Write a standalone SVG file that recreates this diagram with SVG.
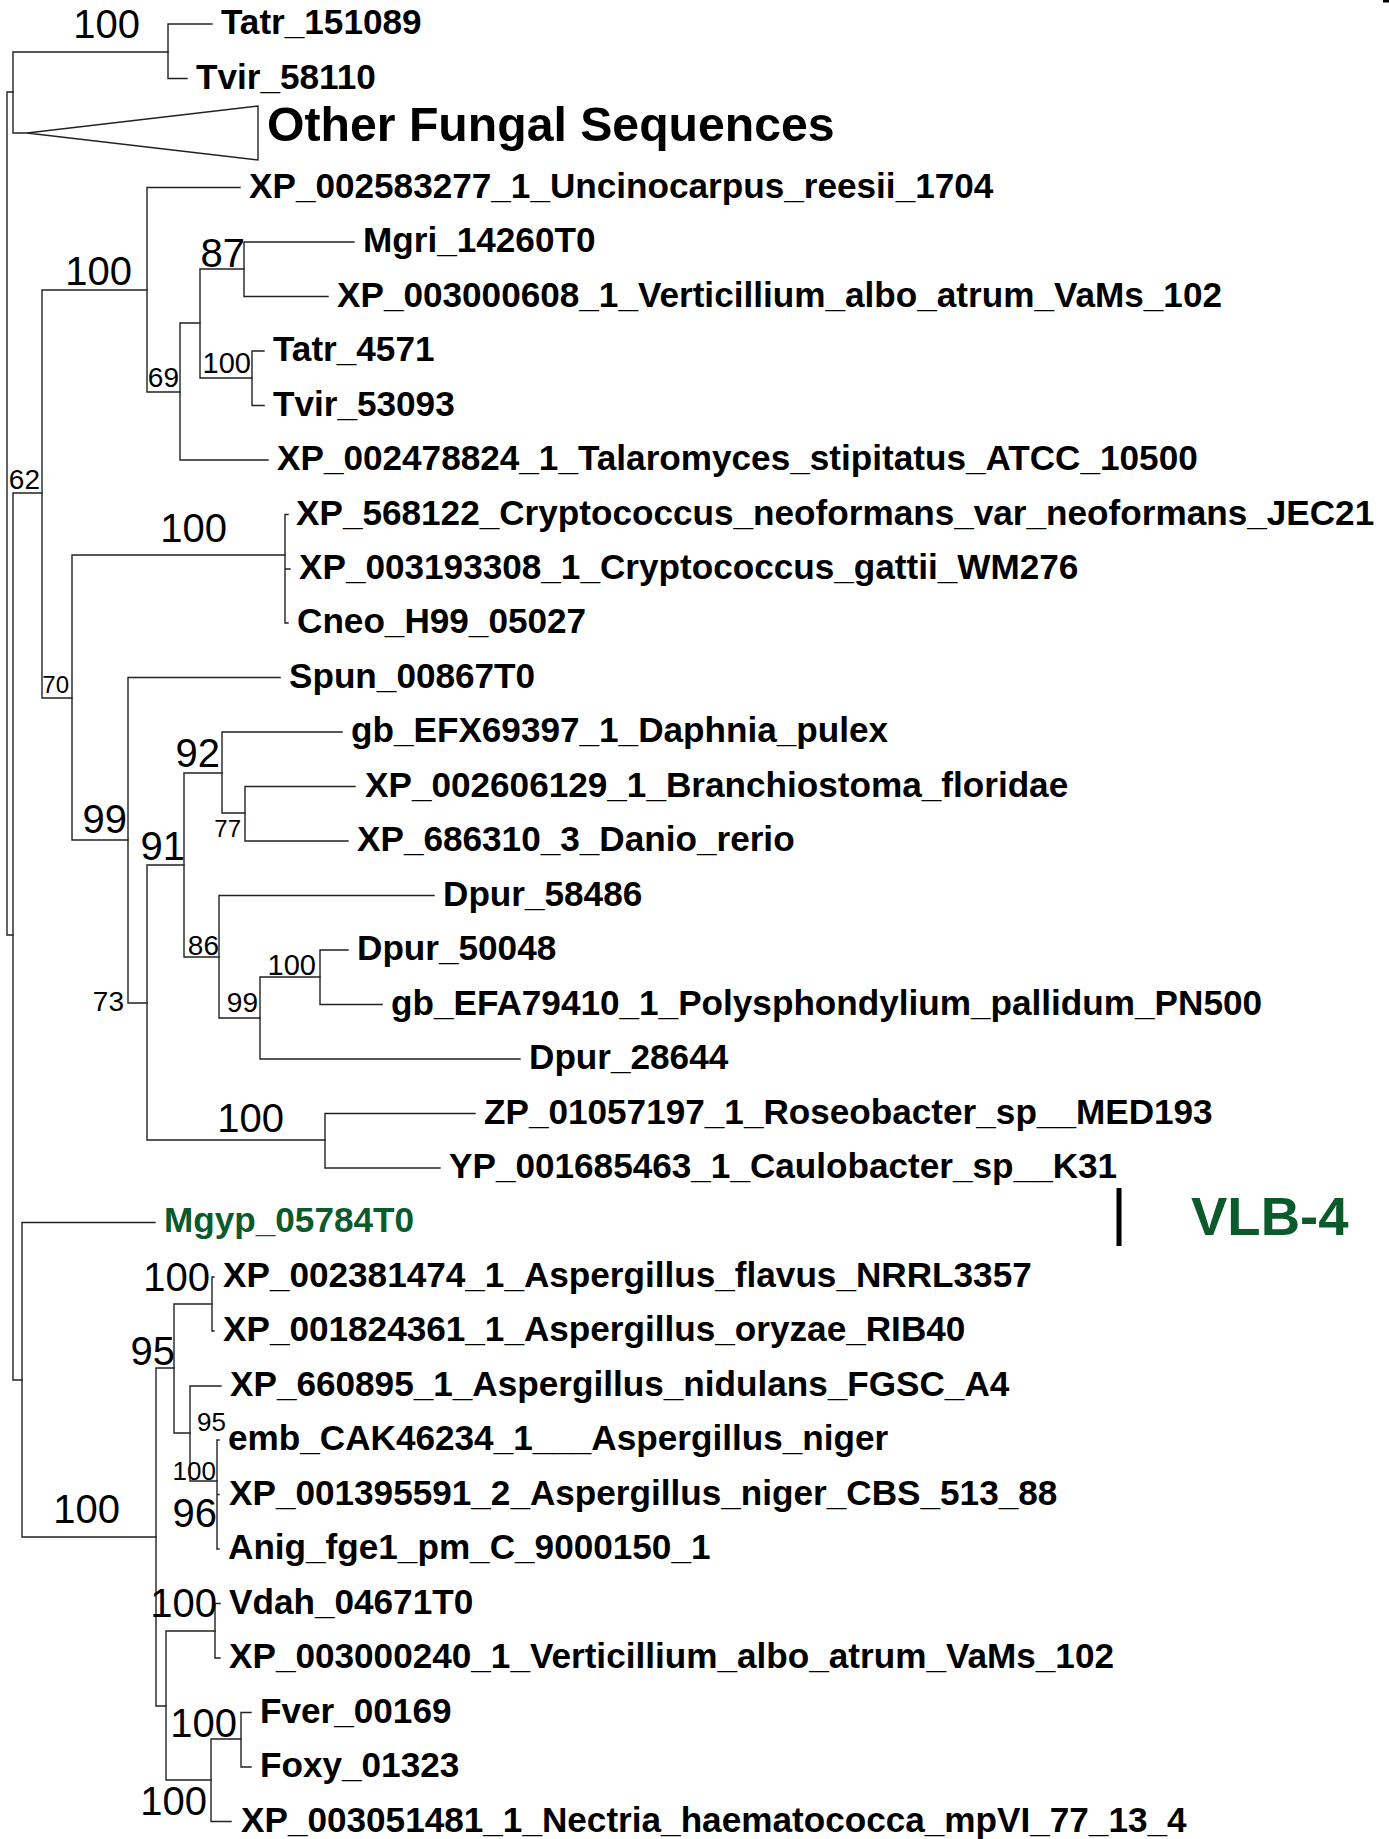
<svg xmlns="http://www.w3.org/2000/svg" width="1389" height="1839" viewBox="0 0 1389 1839">
<style>
.br{fill:none;stroke:#222;stroke-width:1.4;stroke-linecap:square}
.lf{font-family:"Liberation Sans",Arial,sans-serif;font-weight:bold;font-size:35.15px;fill:#000}
.gr{fill:#0B5A2C}
.bl{font-family:"Liberation Sans",Arial,sans-serif;font-size:40px;fill:#000;text-anchor:end}
.bs{font-family:"Liberation Sans",Arial,sans-serif;font-size:28px;fill:#000;text-anchor:end}
</style>
<rect x="0" y="0" width="1389" height="1839" fill="#fff"/>
<rect x="1383" y="0" width="6" height="2.5" fill="#000"/>
<g id="connectors">
<path class="br" d="M7,92V935M7,92H13M7,935H13"/>
<path class="br" d="M13,52V133M13,52H168M13,133H27"/>
<path class="br" d="M168,24V78.5M168,24H212M168,78.5H187"/>
<path class="br" d="M13,493V1380M13,493H42M13,1380H22"/>
<path class="br" d="M42,290V698M42,290H147M42,698H72"/>
<path class="br" d="M147,187.5V392M147,187.5H240M147,392H180"/>
<path class="br" d="M180,323V460M180,323H200M180,460H268"/>
<path class="br" d="M200,269V378M200,269H244M200,378H252"/>
<path class="br" d="M244,242V296.5M244,242H354M244,296.5H328"/>
<path class="br" d="M252,351V405.5M252,351H264M252,405.5H264"/>
<path class="br" d="M72,555V840M72,555H285M72,840H128"/>
<path class="br" d="M285,514.5V623M285,514.5H288M285,569H290M285,623H288"/>
<path class="br" d="M128,677.5V1003M128,677.5H280M128,1003H147"/>
<path class="br" d="M147,865V1140M147,865H184M147,1140H325"/>
<path class="br" d="M184,773V957M184,773H222M184,957H219"/>
<path class="br" d="M222,732V813M222,732H342M222,813H245"/>
<path class="br" d="M245,786.5V841M245,786.5H355M245,841H348"/>
<path class="br" d="M219,895.5V1018M219,895.5H434M219,1018H260"/>
<path class="br" d="M260,977V1059M260,977H320M260,1059H520"/>
<path class="br" d="M320,950V1004.5M320,950H348M320,1004.5H382"/>
<path class="br" d="M325,1113.5V1168M325,1113.5H475M325,1168H440"/>
<path class="br" d="M22,1222.5V1537M22,1222.5H155M22,1537H156"/>
<path class="br" d="M156,1368V1706M156,1368H174M156,1706H166"/>
<path class="br" d="M174,1304V1433M174,1304H212M174,1433H190"/>
<path class="br" d="M212,1277V1331M212,1277H214M212,1331H214"/>
<path class="br" d="M190,1386V1481M190,1386H221M190,1481H217"/>
<path class="br" d="M217,1440V1549M217,1440H219M217,1494.5H219M217,1549H219"/>
<path class="br" d="M166,1631V1780M166,1631H215M166,1780H211"/>
<path class="br" d="M215,1603.5V1658M215,1603.5H220M215,1658H220"/>
<path class="br" d="M211,1739V1821.5M211,1739H241M211,1821.5H231"/>
<path class="br" d="M241,1712.5V1767M241,1712.5H251M241,1767H251"/>
</g>
<g id="support-values">
<text class="bl" x="140" y="38">100</text>
<text class="bl" x="132" y="285">100</text>
<text class="bl" x="245" y="267">87</text>
<text class="bs" x="179" y="387">69</text>
<text class="bs" x="251" y="373" style="font-size:29px">100</text>
<text class="bs" x="40" y="489">62</text>
<text class="bl" x="227" y="542">100</text>
<text class="bs" x="69" y="693" style="font-size:24px">70</text>
<text class="bl" x="220" y="767">92</text>
<text class="bs" x="241" y="837" style="font-size:24px">77</text>
<text class="bl" x="127" y="833">99</text>
<text class="bl" x="185" y="860">91</text>
<text class="bs" x="219" y="955">86</text>
<text class="bs" x="316" y="975" style="font-size:29px">100</text>
<text class="bs" x="258" y="1012">99</text>
<text class="bs" x="124" y="1011">73</text>
<text class="bl" x="284" y="1132">100</text>
<text class="bl" x="210" y="1291">100</text>
<text class="bl" x="175" y="1365">95</text>
<text class="bs" x="226" y="1431" style="font-size:26px">95</text>
<text class="bs" x="216" y="1480" style="font-size:26px">100</text>
<text class="bl" x="120" y="1523">100</text>
<text class="bl" x="217" y="1527">96</text>
<text class="bl" x="217" y="1617">100</text>
<text class="bl" x="237" y="1737">100</text>
<text class="bl" x="207" y="1815">100</text>
</g>
<g id="leaf-Tatr_151089"><text class="lf" x="221" y="34">Tatr_151089</text></g>
<g id="leaf-Tvir_58110"><text class="lf" x="196" y="88.5">Tvir_58110</text></g>
<g id="collapsed-other-fungal">
<polygon points="27,133 258,106 258,160" fill="#fff" stroke="#222" stroke-width="1.4"/>
<text x="267" y="141" style="font-family:'Liberation Sans',Arial,sans-serif;font-weight:bold;font-size:48.2px">Other Fungal Sequences</text>
</g>
<g id="leaf-XP_002583277"><text class="lf" x="249" y="197.5">XP_002583277_1_Uncinocarpus_reesii_1704</text></g>
<g id="leaf-Mgri_14260T0"><text class="lf" x="363" y="252">Mgri_14260T0</text></g>
<g id="leaf-XP_003000608"><text class="lf" x="337" y="306.5">XP_003000608_1_Verticillium_albo_atrum_VaMs_102</text></g>
<g id="leaf-Tatr_4571"><text class="lf" x="273" y="361">Tatr_4571</text></g>
<g id="leaf-Tvir_53093"><text class="lf" x="273" y="415.5">Tvir_53093</text></g>
<g id="leaf-XP_002478824"><text class="lf" x="277" y="470">XP_002478824_1_Talaromyces_stipitatus_ATCC_10500</text></g>
<g id="leaf-XP_568122"><text class="lf" x="296" y="524.5">XP_568122_Cryptococcus_neoformans_var_neoformans_JEC21</text></g>
<g id="leaf-XP_003193308"><text class="lf" x="299" y="579">XP_003193308_1_Cryptococcus_gattii_WM276</text></g>
<g id="leaf-Cneo_H99_05027"><text class="lf" x="297" y="633">Cneo_H99_05027</text></g>
<g id="leaf-Spun_00867T0"><text class="lf" x="289" y="687.5">Spun_00867T0</text></g>
<g id="leaf-gb_EFX69397"><text class="lf" x="351" y="742">gb_EFX69397_1_Daphnia_pulex</text></g>
<g id="leaf-XP_002606129"><text class="lf" x="365" y="796.5">XP_002606129_1_Branchiostoma_floridae</text></g>
<g id="leaf-XP_686310"><text class="lf" x="357" y="851">XP_686310_3_Danio_rerio</text></g>
<g id="leaf-Dpur_58486"><text class="lf" x="443" y="905.5">Dpur_58486</text></g>
<g id="leaf-Dpur_50048"><text class="lf" x="357" y="960">Dpur_50048</text></g>
<g id="leaf-gb_EFA79410"><text class="lf" x="391" y="1014.5">gb_EFA79410_1_Polysphondylium_pallidum_PN500</text></g>
<g id="leaf-Dpur_28644"><text class="lf" x="529" y="1069">Dpur_28644</text></g>
<g id="leaf-ZP_01057197"><text class="lf" x="484" y="1123.5">ZP_01057197_1_Roseobacter_sp__MED193</text></g>
<g id="leaf-YP_001685463"><text class="lf" x="449" y="1178">YP_001685463_1_Caulobacter_sp__K31</text></g>
<g id="leaf-Mgyp_05784T0"><text class="lf gr" x="164" y="1232">Mgyp_05784T0</text></g>
<g id="leaf-XP_002381474"><text class="lf" x="223" y="1287">XP_002381474_1_Aspergillus_flavus_NRRL3357</text></g>
<g id="leaf-XP_001824361"><text class="lf" x="223" y="1341">XP_001824361_1_Aspergillus_oryzae_RIB40</text></g>
<g id="leaf-XP_660895"><text class="lf" x="230" y="1396">XP_660895_1_Aspergillus_nidulans_FGSC_A4</text></g>
<g id="leaf-emb_CAK46234"><text class="lf" x="228" y="1450">emb_CAK46234_1___Aspergillus_niger</text></g>
<g id="leaf-XP_001395591"><text class="lf" x="229" y="1504.5">XP_001395591_2_Aspergillus_niger_CBS_513_88</text></g>
<g id="leaf-Anig_fge1"><text class="lf" x="228" y="1559">Anig_fge1_pm_C_9000150_1</text></g>
<g id="leaf-Vdah_04671T0"><text class="lf" x="229" y="1613.5">Vdah_04671T0</text></g>
<g id="leaf-XP_003000240"><text class="lf" x="229" y="1668">XP_003000240_1_Verticillium_albo_atrum_VaMs_102</text></g>
<g id="leaf-Fver_00169"><text class="lf" x="260" y="1722.5">Fver_00169</text></g>
<g id="leaf-Foxy_01323"><text class="lf" x="260" y="1777">Foxy_01323</text></g>
<g id="leaf-XP_003051481"><text class="lf" x="241" y="1831.5">XP_003051481_1_Nectria_haematococca_mpVI_77_13_4</text></g>
<g id="clade-VLB-4">
<rect x="1116.5" y="1188" width="5" height="58" fill="#000"/>
<text x="1191" y="1235" style="font-family:'Liberation Sans',Arial,sans-serif;font-weight:bold;font-size:54.5px;fill:#0B5A2C">VLB-4</text>
</g>
</svg>
